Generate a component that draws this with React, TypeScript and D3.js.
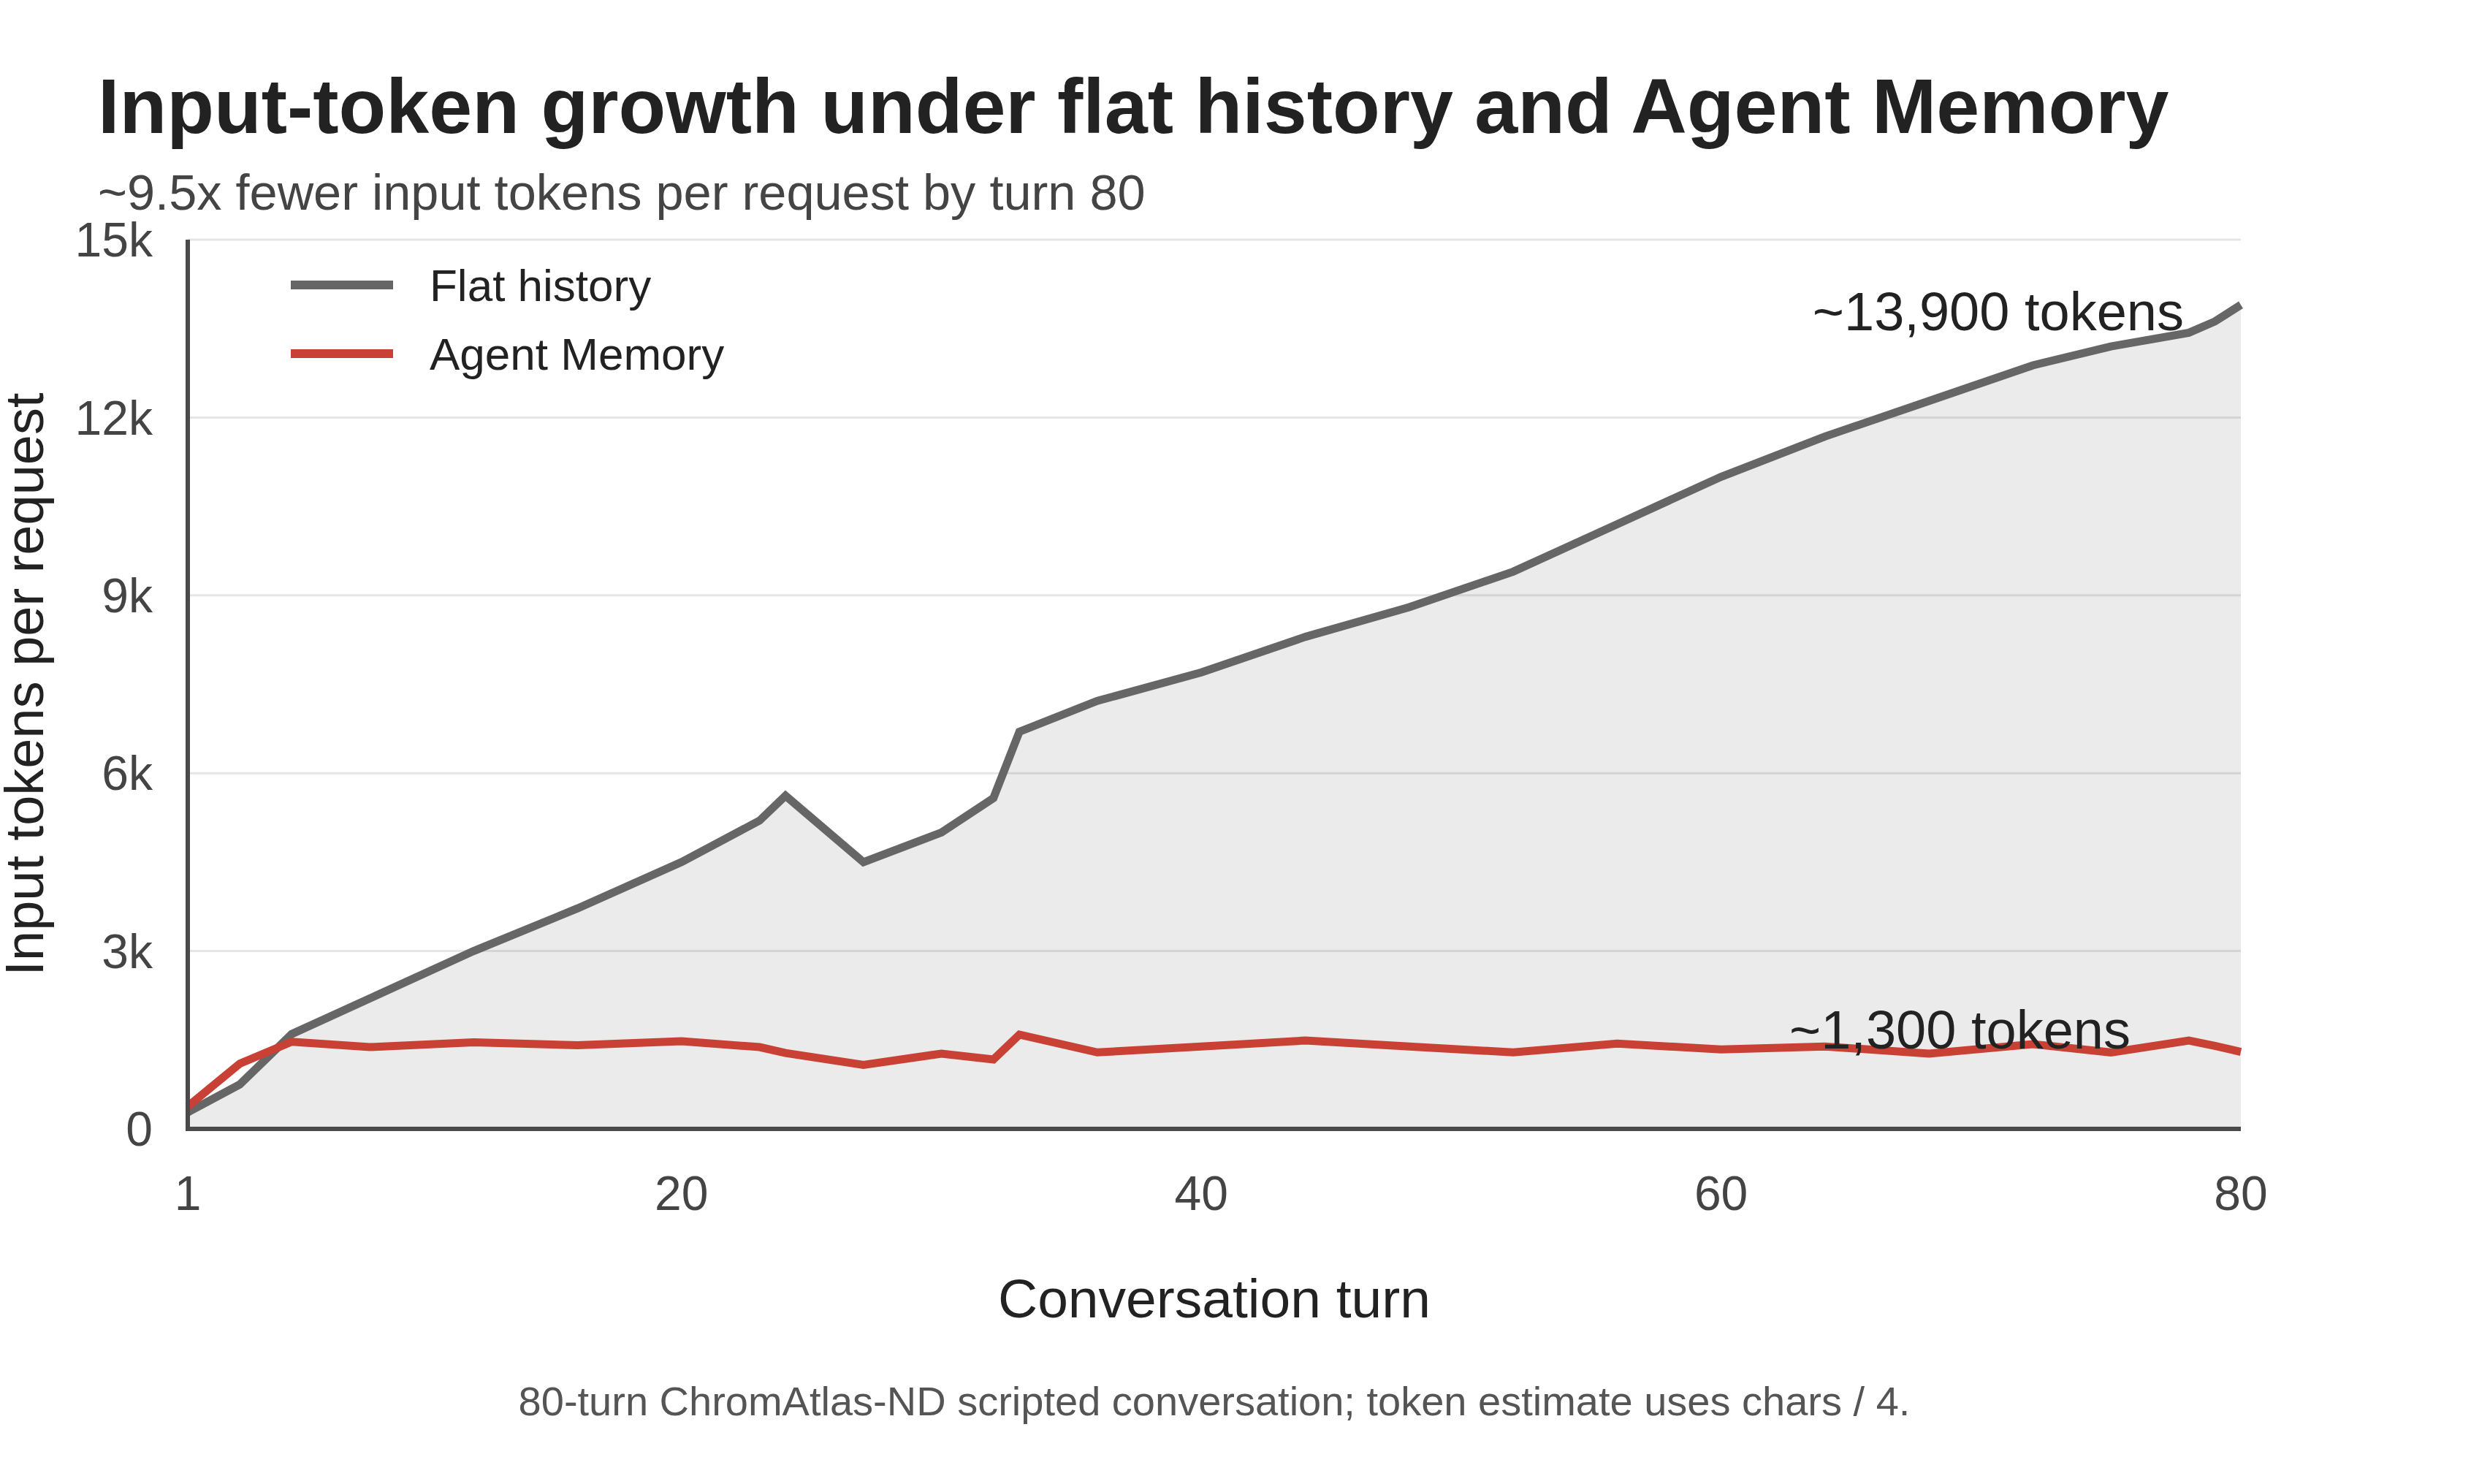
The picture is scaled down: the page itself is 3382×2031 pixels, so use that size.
import React from "react";
import * as d3 from "d3";

// conversation turns sampled along the run
const turns = [1, 3, 5, 8, 12, 16, 20, 23, 24, 27, 30, 32, 33, 36, 40, 44, 48, 52, 56, 60, 64, 68, 72, 75, 78, 79, 80];

// input tokens per request for each approach
const flatHistory = [280, 750, 1600, 2200, 3000, 3720, 4500, 5200, 5620, 4500, 5000, 5580, 6700, 7220, 7700, 8300, 8800, 9400, 10200, 11000, 11680, 12280, 12880, 13200, 13430, 13620, 13900];
const agentMemory = [380, 1100, 1470, 1380, 1460, 1410, 1480, 1380, 1280, 1080, 1270, 1170, 1590, 1290, 1390, 1490, 1390, 1290, 1440, 1340, 1390, 1270, 1430, 1290, 1490, 1400, 1300];

const yTicks = [0, 3000, 6000, 9000, 12000, 15000];
const xTicks = [1, 20, 40, 60, 80];

const seriesNames = ["Flat history", "Agent Memory"];
const seriesColors = ["#666666", "#c84134"];

const W = 3382;
const H = 2031;
const margin = { top: 328, right: 315, bottom: 486, left: 257 };
const FONT = "'Liberation Sans', Arial, Helvetica, sans-serif";

export default function App() {
  const x = d3
    .scaleLinear()
    .domain([1, 80])
    .range([margin.left, W - margin.right]);
  const y = d3
    .scaleLinear()
    .domain([0, 15000])
    .range([H - margin.bottom, margin.top]);

  const flatPts = turns.map((t, i) => [t, flatHistory[i]]);
  const memPts = turns.map((t, i) => [t, agentMemory[i]]);

  const line = d3
    .line()
    .x((d) => x(d[0]))
    .y((d) => y(d[1]));
  const area = d3
    .area()
    .x((d) => x(d[0]))
    .y0(y(0))
    .y1((d) => y(d[1]));

  const fmtTick = (v) => (v === 0 ? "0" : `${v / 1000}k`);
  const fmtNum = d3.format(",");
  const last = turns.length - 1;
  const x0 = x.range()[0];
  const x1 = x.range()[1];

  return (
    <svg
      width={W}
      height={H}
      style={{ position: "absolute", left: 0, top: 0, background: "#fff" }}
      fontFamily={FONT}
    >
      {/* titles */}
      <text x={134} y={182} fontSize={106} fontWeight="bold" fill="#222">
        Input-token growth under flat history and Agent Memory
      </text>
      <text x={134} y={287} fontSize={68.5} fill="#444">
        ~9.5x fewer input tokens per request by turn 80
      </text>

      {/* grid */}
      {yTicks.map((t) => (
        <line key={t} x1={x0} x2={x1} y1={y(t)} y2={y(t)} stroke="#e6e6e6" strokeWidth={3} />
      ))}

      {/* shaded area under flat history */}
      <path d={area(flatPts)} fill="#000" fillOpacity={0.08} />

      <path d={line(flatPts)} fill="none" stroke={seriesColors[0]} strokeWidth={11} />
      <path d={line(memPts)} fill="none" stroke={seriesColors[1]} strokeWidth={11} />

      {/* axes */}
      <line x1={x0} x2={x0} y1={y(15000)} y2={y(0)} stroke="#4a4a4a" strokeWidth={6} />
      <line x1={x0 - 3} x2={x1} y1={y(0)} y2={y(0)} stroke="#4a4a4a" strokeWidth={6} />

      {yTicks.map((t) => (
        <text key={t} x={209} y={y(t)} dy="0.35em" textAnchor="end" fontSize={66} fill="#444">
          {fmtTick(t)}
        </text>
      ))}
      {xTicks.map((t) => (
        <text key={t} x={x(t)} y={1656} textAnchor="middle" fontSize={66} fill="#444">
          {t}
        </text>
      ))}

      <text x={(x0 + x1) / 2} y={1803} textAnchor="middle" fontSize={75} fill="#222">
        Conversation turn
      </text>
      <text
        transform={`translate(59,${(y(0) + y(15000)) / 2}) rotate(-90)`}
        textAnchor="middle"
        fontSize={74}
        fill="#222"
      >
        Input tokens per request
      </text>

      {/* legend */}
      {seriesNames.map((name, i) => (
        <g key={name} transform={`translate(398,${390 + i * 94})`}>
          <line x1={0} x2={140} y1={0} y2={0} stroke={seriesColors[i]} strokeWidth={12} />
          <text x={190} y={0} dy="0.35em" fontSize={62} fill="#222">
            {name}
          </text>
        </g>
      ))}

      {/* end-of-run labels */}
      <text
        x={x(turns[last]) - 78}
        y={y(flatHistory[last]) + 35}
        textAnchor="end"
        fontSize={74}
        fill="#222"
      >
        ~{fmtNum(flatHistory[last])} tokens
      </text>
      <text
        x={x(turns[last]) - 151}
        y={y(agentMemory[last]) - 5}
        textAnchor="end"
        fontSize={74}
        fill="#222"
      >
        ~{fmtNum(agentMemory[last])} tokens
      </text>

      <text x={(x0 + x1) / 2} y={1937} textAnchor="middle" fontSize={56} fill="#555">
        80-turn ChromAtlas-ND scripted conversation; token estimate uses chars / 4.
      </text>
    </svg>
  );
}
